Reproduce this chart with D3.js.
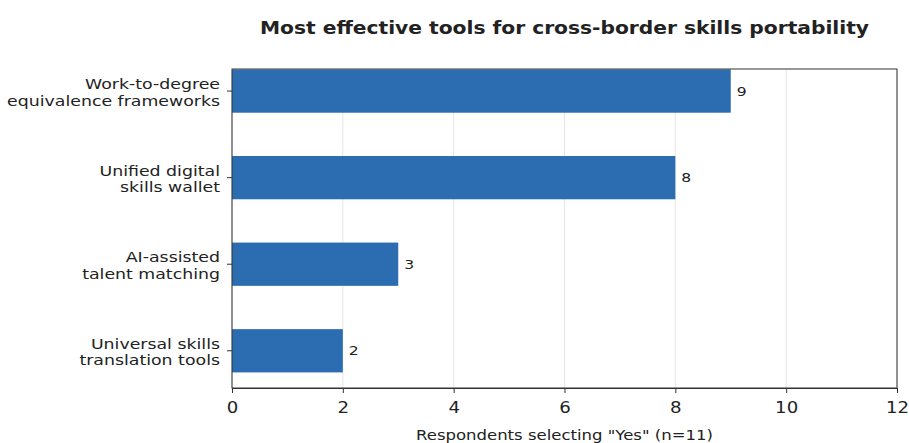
<!DOCTYPE html>
<html>
<head>
<meta charset="utf-8">
<script src="https://cdn.jsdelivr.net/npm/d3@7"></script>
<style>
  body { margin: 0; background: #fff; }
  text { font-family: "DejaVu Sans", sans-serif; fill: #222; }
</style>
</head>
<body>
<div class="chart"></div>
<script>
var svgWidth = 909;
var svgHeight = 443;

// data
var categories = [
    ["Work-to-degree", "equivalence frameworks"],
    ["Unified digital", "skills wallet"],
    ["AI-assisted", "talent matching"],
    ["Universal skills", "translation tools"]
];
var counts = [9, 8, 3, 2];
var xTicks = [0, 2, 4, 6, 8, 10, 12];

var margin = { top: 69, right: 12, bottom: 55, left: 232 };
var width = svgWidth - margin.left - margin.right;
var height = svgHeight - margin.top - margin.bottom;

// the reference text is a bit wider than plain DejaVu
var stretch = 1.2;

var svg = d3.select(".chart")
    .append("svg")
    .attr("width", svgWidth)
    .attr("height", svgHeight);

var chart = svg.append("g")
    .attr("transform", "translate(" + margin.left + "," + margin.top + ")");

var xScale = d3.scaleLinear().domain([0, 12]).range([0, width]);
// category index 0 at top, matplotlib-like padding
var yScale = d3.scaleLinear().domain([-0.255, 3.43]).range([0, height]);
var barH = yScale(0.5) - yScale(0);

// grid lines
chart.selectAll(".grid")
    .data(xTicks)
    .enter()
    .append("line")
    .attr("x1", d => xScale(d))
    .attr("x2", d => xScale(d))
    .attr("y1", 0)
    .attr("y2", height)
    .attr("stroke", "#e6e6e6")
    .attr("stroke-width", 1);

// bars
chart.selectAll(".bar")
    .data(counts)
    .enter()
    .append("rect")
    .attr("x", xScale(0))
    .attr("y", (d, i) => yScale(i) - barH / 2)
    .attr("width", d => xScale(d) - xScale(0))
    .attr("height", barH)
    .attr("fill", "#2c6db2");

// value labels
chart.selectAll(".val")
    .data(counts)
    .enter()
    .append("text")
    .attr("transform", (d, i) => `translate(${xScale(d) + 6}, ${yScale(i)}) scale(${stretch},1)`)
    .attr("dy", "0.35em")
    .style("font-size", "13px")
    .text(d => d);

// frame
chart.append("rect")
    .attr("width", width)
    .attr("height", height)
    .attr("fill", "none")
    .attr("stroke", "#333")
    .attr("stroke-width", 1);

// x axis
var bottomAxis = d3.axisBottom(xScale).tickValues(xTicks).tickSize(5).tickPadding(8);
var xg = chart.append("g")
    .attr("transform", `translate(0, ${height})`)
    .call(bottomAxis);
xg.select(".domain").attr("stroke", "#333");
xg.selectAll(".tick line").attr("stroke", "#333");
xg.selectAll("text")
    .style("font-size", "16.5px")
    .attr("fill", "#222")
    .attr("transform", "scale(1.1,1)");

// y tick marks + wrapped labels
var yg = chart.append("g");
categories.forEach(function(lines, i) {
    var yc = yScale(i);
    yg.append("line")
        .attr("x1", -5).attr("x2", 0)
        .attr("y1", yc).attr("y2", yc)
        .attr("stroke", "#333");
    var t = yg.append("text")
        .attr("text-anchor", "end")
        .attr("transform", `translate(-12, ${yc}) scale(1.24,1)`)
        .style("font-size", "14px");
    lines.forEach(function(line, j) {
        t.append("tspan")
            .attr("x", 0)
            .attr("dy", j === 0 ? "-0.15em" : "1.2em")
            .text(line);
    });
});

// title
svg.append("text")
    .attr("transform", `translate(${margin.left + width / 2}, 34) scale(1.19,1)`)
    .attr("text-anchor", "middle")
    .style("font-size", "17px")
    .style("font-weight", "bold")
    .text("Most effective tools for cross-border skills portability");

// x label
svg.append("text")
    .attr("transform", `translate(${margin.left + width / 2}, 440) scale(1.18,1)`)
    .attr("text-anchor", "middle")
    .style("font-size", "14px")
    .text("Respondents selecting \"Yes\" (n=11)");
</script>
</body>
</html>
